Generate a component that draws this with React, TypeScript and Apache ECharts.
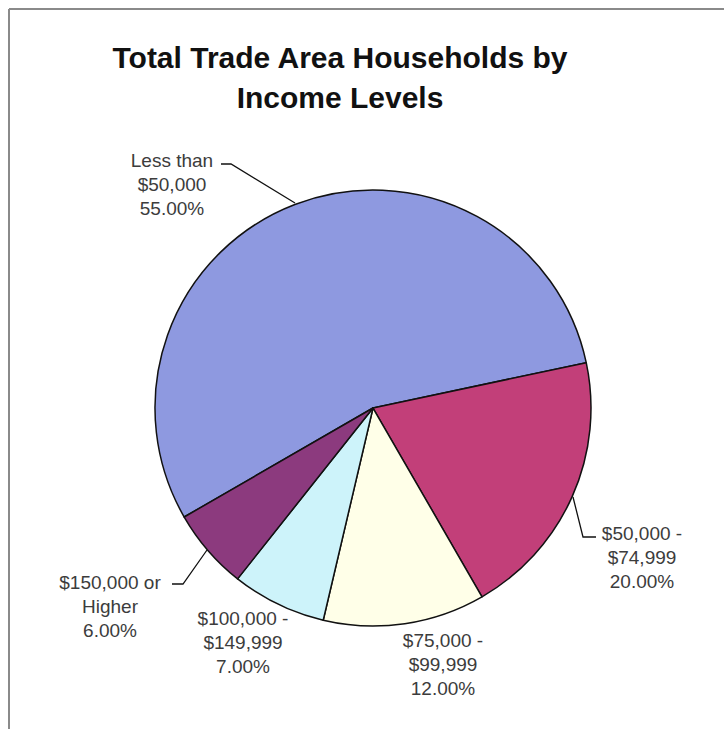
import React, { useEffect, useRef } from "react";
import * as echarts from "echarts";

const categories = [
  "Less than\n$50,000",
  "$50,000 -\n$74,999",
  "$75,000 -\n$99,999",
  "$100,000 -\n$149,999",
  "$150,000 or\nHigher",
];
const shares = [55, 20, 12, 7, 6];
const colors = ["#8E99E0", "#C23F79", "#FFFFE8", "#CDF3FA", "#8C3A7E"];
const showLines = [true, true, false, false, true];

const titleText = "Total Trade Area Households by\nIncome Levels";

// label anchor positions and leader line paths (layout only)
const labelPos: { x: number; y: number; line?: number[][] }[] = [
  { x: 172, y: 184, line: [[295, 203], [231, 164], [221, 164]] },
  { x: 642, y: 557, line: [[573, 497], [583, 537], [596, 537]] },
  { x: 443, y: 664 },
  { x: 243, y: 642 },
  { x: 110, y: 606, line: [[207, 550], [183, 584], [172, 584]] },
];

export default function App() {
  const ref = useRef<HTMLDivElement>(null);
  useEffect(() => {
    if (!ref.current) return;
    const chart = echarts.init(ref.current, undefined, { renderer: "svg" });
    chart.setOption({
      animation: false,
      backgroundColor: "#ffffff",
      graphic: [
        {
          type: "line",
          shape: { x1: 9, y1: 9, x2: 724, y2: 9 },
          style: { stroke: "#8a8a8a", lineWidth: 2 },
        },
        {
          type: "line",
          shape: { x1: 9, y1: 9, x2: 9, y2: 729 },
          style: { stroke: "#8a8a8a", lineWidth: 2 },
        },
        {
          type: "text",
          x: 340,
          y: 77,
          style: {
            text: titleText,
            textAlign: "center",
            textVerticalAlign: "middle",
            font: "bold 30px Arial, 'Liberation Sans', sans-serif",
            lineHeight: 40,
            fill: "#111111",
          },
        },
      ],
      series: [
        {
          type: "pie",
          center: [373, 408],
          radius: 218,
          startAngle: 210,
          clockwise: true,
          avoidLabelOverlap: false,
          itemStyle: { borderColor: "#111111", borderWidth: 1.5 },
          label: {
            show: true,
            position: "outside",
            formatter: (p: any) => `${p.name}\n${Number(p.value).toFixed(2)}%`,
            fontFamily: "Arial, 'Liberation Sans', sans-serif",
            fontSize: 19,
            lineHeight: 24,
            color: "#3c3c3c",
            align: "center",
          },
          labelLine: {
            show: true,
            lineStyle: { color: "#111111", width: 1.3 },
          },
          labelLayout: (params: any) => {
            const p = labelPos[params.dataIndex];
            const out: any = {
              x: p.x,
              y: p.y,
              align: "center",
              verticalAlign: "middle",
            };
            if (p.line) out.labelLinePoints = p.line;
            return out;
          },
          emphasis: { disabled: true },
          data: categories.map((name, i) => ({
            name,
            value: shares[i],
            itemStyle: { color: colors[i] },
            labelLine: { show: showLines[i] },
          })),
        },
      ],
    });
    return () => chart.dispose();
  }, []);
  return (
    <div
      ref={ref}
      style={{ position: "absolute", left: 0, top: 0, width: 724, height: 729 }}
    />
  );
}
